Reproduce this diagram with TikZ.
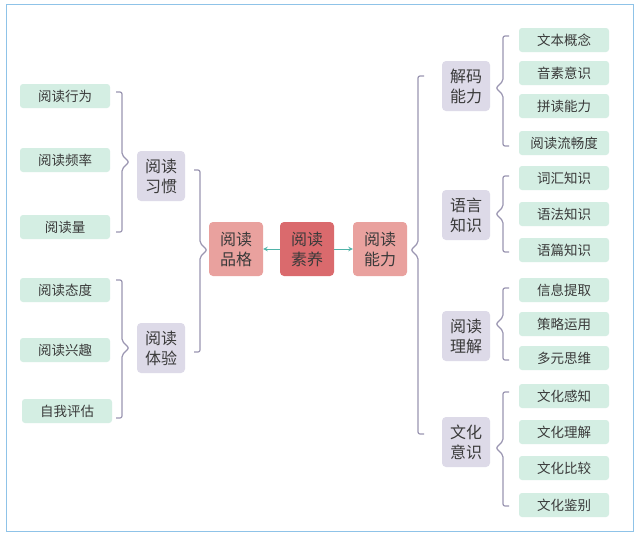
\documentclass[tikz,border=0pt]{standalone}
\usepackage{fontspec}
\setmainfont{Noto Sans CJK SC}
\definecolor{leaf}{HTML}{D4EEE3}
\definecolor{mid}{HTML}{DDDAE8}
\definecolor{pinkb}{HTML}{E9A19E}
\definecolor{redb}{HTML}{DA6A6D}
\definecolor{brc}{HTML}{9B96B2}
\definecolor{txt}{HTML}{3A3A3A}
\definecolor{frm}{HTML}{8FC3E8}
\definecolor{arr}{HTML}{4FB3A8}
\newcommand\mybrace[5]{% x top bot mid dir
  \draw[brc,line width=1.2pt,rounded corners=2pt] ({#1+#5*6},#2) -- (#1,#2) -- (#1,{#4-7}) -- ({#1-#5*7},#4) -- (#1,{#4+7}) -- (#1,#3) -- ({#1+#5*6},#3);}
\begin{document}
\begin{tikzpicture}[x=1pt,y=-1pt,
  leafbox/.style={fill=leaf,rounded corners=3pt,minimum width=90pt,minimum height=24pt,inner sep=0pt,text=txt,font=\fontsize{13.5}{15}\selectfont},
  midbox/.style={fill=mid,rounded corners=4pt,minimum width=48pt,minimum height=50pt,inner sep=2pt,text=txt,align=center,font=\fontsize{16}{20}\selectfont},
  corebox/.style={rounded corners=4pt,minimum width=54pt,minimum height=54pt,inner sep=2pt,text=txt,align=center,font=\fontsize{16}{20}\selectfont},
  tip/.style={->,arr,line width=1pt,>=stealth}]
\useasboundingbox (0,0) rectangle (640,536);
\fill[white] (0,0) rectangle (640,536);
\draw[frm,line width=1pt] (6,4) rectangle (633,531);
% core
\node[corebox,fill=pinkb] (pg) at (236,249) {阅读\\品格};
\node[corebox,fill=redb] (sy) at (307,249) {阅读\\素养};
\node[corebox,fill=pinkb] (nl) at (380,249) {阅读\\能力};
\draw[tip] (sy) -- (pg);
\draw[tip] (sy) -- (nl);
% left mid
\node[midbox] (xg) at (161,176) {阅读\\习惯};
\node[midbox] (ty) at (161,348) {阅读\\体验};
% left leaves
\node[leafbox] (l1) at (65,96) {阅读行为};
\node[leafbox] (l2) at (65,160) {阅读频率};
\node[leafbox] (l3) at (65,227) {阅读量};
\node[leafbox] (l4) at (65,290) {阅读态度};
\node[leafbox] (l5) at (65,350) {阅读兴趣};
\node[leafbox] (l6) at (67,411) {自我评估};
\mybrace{122}{92}{232}{162}{-1}
\mybrace{122}{280}{418}{348}{-1}
\mybrace{200}{170}{352}{250}{-1}
% right
\mybrace{418}{76}{434}{250}{1}
\node[midbox] (jm) at (466,86) {解码\\能力};
\node[midbox] (yy) at (466,215) {语言\\知识};
\node[midbox] (lj) at (466,336) {阅读\\理解};
\node[midbox] (wh) at (466,442) {文化\\意识};
\mybrace{503}{36}{146}{88}{1}
\mybrace{503}{176}{252}{214}{1}
\mybrace{503}{288}{360}{324}{1}
\mybrace{503}{392}{506}{448}{1}
\foreach \t/\y [count=\i] in {文本概念/40,音素意识/73,拼读能力/106,阅读流畅度/143,词汇知识/178,语法知识/214,语篇知识/250,信息提取/290,策略运用/324,多元思维/358,文化感知/396,文化理解/432,文化比较/468,文化鉴别/505}
  \node[leafbox] (r\i) at (564,\y) {\t};
\end{tikzpicture}
\end{document}
